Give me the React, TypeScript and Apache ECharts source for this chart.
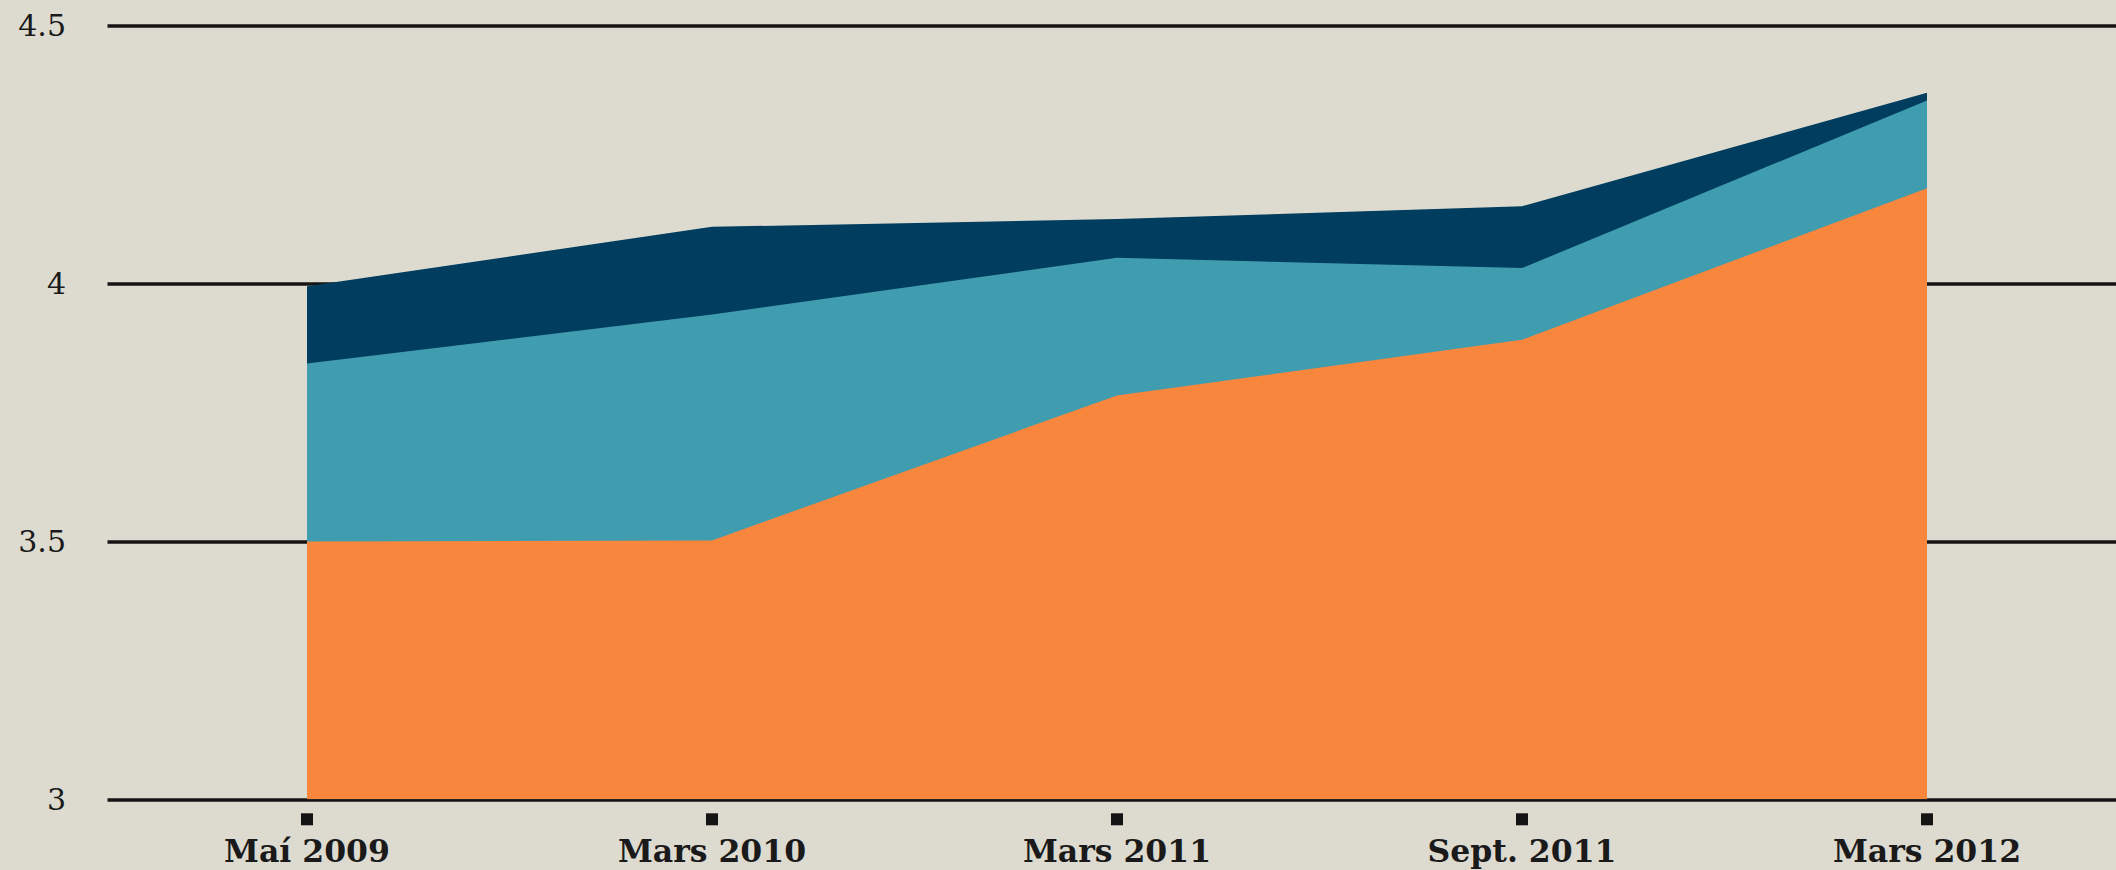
import React, { useEffect, useRef } from "react";
import * as echarts from "echarts";

const categories = ["Maí 2009", "Mars 2010", "Mars 2011", "Sept. 2011", "Mars 2012"];
// Upper edge of each coloured band (absolute values on the y scale)
const navyTop = [3.995, 4.11, 4.125, 4.15, 4.37];
const tealTop = [3.845, 3.94, 4.05, 4.03, 4.355];
const orangeTop = [3.5, 3.502, 3.783, 3.891, 4.185];
const yTicks = { min: 3, max: 4.5, interval: 0.5 };

const BG = "#DDDBD0";
const NAVY = "#003D5E";
const TEAL = "#409DAF";
const ORANGE = "#F8863D";
const INK = "#141414";

export default function App() {
  const ref = useRef<HTMLDivElement>(null);
  useEffect(() => {
    document.body.style.margin = "0";
    const chart = echarts.init(ref.current!, undefined, { renderer: "svg" });
    const areaSeries = (name: string, data: number[], color: string, z: number) => ({
      name,
      type: "line",
      xAxisIndex: 1,
      yAxisIndex: 1,
      data,
      symbol: "none",
      lineStyle: { width: 0 },
      areaStyle: { color, opacity: 1, origin: "start" },
      itemStyle: { color },
      z,
    });
    chart.setOption({
      animation: false,
      backgroundColor: BG,
      grid: [
        { left: 107.5, right: 0, top: 25.7, bottom: 70.7 },
        { left: 307, right: 189, top: 25.7, bottom: 70.7 },
      ],
      xAxis: [
        { gridIndex: 0, type: "value", show: false, min: 0, max: 1 },
        {
          gridIndex: 1,
          type: "category",
          data: categories,
          boundaryGap: false,
          offset: 14,
          axisLine: { show: false },
          axisTick: { show: true, length: 12, lineStyle: { width: 12, color: INK } },
          axisLabel: {
            margin: 21,
            fontFamily: "DejaVu Serif",
            fontWeight: "bold",
            fontSize: 31.5,
            color: "#1a1a1a",
          },
          splitLine: { show: false },
        },
      ],
      yAxis: [
        {
          gridIndex: 0,
          type: "value",
          min: yTicks.min,
          max: yTicks.max,
          interval: yTicks.interval,
          axisLine: { show: false },
          axisTick: { show: false },
          axisLabel: {
            margin: 41.5,
            fontFamily: "DejaVu Serif",
            fontSize: 30,
            color: "#1a1a1a",
          },
          splitLine: { show: true, lineStyle: { color: INK, width: 3.5 } },
        },
        {
          gridIndex: 1,
          type: "value",
          min: yTicks.min,
          max: yTicks.max,
          interval: yTicks.interval,
          show: false,
          splitLine: { show: false },
        },
      ],
      series: [
        areaSeries("navy", navyTop, NAVY, 2),
        areaSeries("teal", tealTop, TEAL, 3),
        areaSeries("orange", orangeTop, ORANGE, 4),
      ],
    });
    return () => chart.dispose();
  }, []);
  return <div ref={ref} style={{ width: 2116, height: 870 }} />;
}
